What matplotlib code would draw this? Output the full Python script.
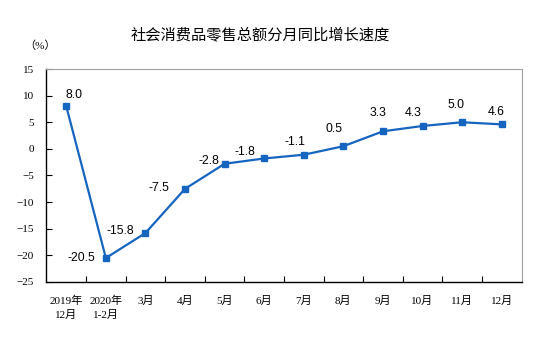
import numpy as np
import matplotlib.pyplot as plt

# monthly year-on-year growth of retail sales
months = ['2019年\n12月', '2020年\n1-2月', '3月', '4月', '5月', '6月',
          '7月', '8月', '9月', '10月', '11月', '12月']
growth = [8.0, -20.5, -15.8, -7.5, -2.8, -1.8, -1.1, 0.5, 3.3, 4.3, 5.0, 4.6]

# where each value label sits relative to its marker (pixels)
label_dx = [8, -24, -25, -26, -16, -19, -9, -9, -5, -9, -6, -6]
label_dy = [11, 0, 2, 1, 3, 6, 13, 17, 18, 13, 17, 12]

serif = ['Liberation Serif', 'Noto Sans CJK SC']
sans = ['Liberation Sans', 'Noto Sans CJK SC']
blue = '#1565c0'

fig = plt.figure(figsize=(5.47, 3.48), dpi=100)
ax = fig.add_axes([0.085, 0.1897, 0.8684, 0.612])

x = np.arange(len(growth))
ax.plot(x, growth, color=blue, lw=1.6, marker='s', ms=4.5, zorder=3)

for i, v in enumerate(growth):
    ax.annotate('%.1f' % v, (x[i], v), xytext=(label_dx[i], label_dy[i]),
                textcoords='offset pixels', ha='center', va='center',
                fontsize=8.8, family=sans, color='black')

ax.set_xlim(-0.5, len(growth) - 0.5)
ax.set_ylim(-25, 15)
ax.set_yticks(range(-25, 16, 5))
ax.set_xticks(x)
ax.set_xticklabels(months, family=serif, fontsize=8, linespacing=1.45)
ax.set_xticks(np.arange(0.5, len(growth) - 1, 1), minor=True)
ax.tick_params(axis='x', which='major', length=0, pad=10)
ax.tick_params(axis='x', which='minor', direction='in', length=4, width=0.8)
ax.tick_params(axis='y', direction='in', length=4, width=0.8, pad=9)
for lab in ax.get_yticklabels():
    lab.set_family(serif)
    lab.set_fontsize(8)

ax.spines['left'].set_color('black')
ax.spines['bottom'].set_color('black')
ax.spines['left'].set_linewidth(1.0)
ax.spines['bottom'].set_linewidth(1.0)
for s in ['top', 'right']:
    ax.spines[s].set_color('#a0a0a0')
    ax.spines[s].set_linewidth(0.8)

fig.text(0.475, 0.9, '社会消费品零售总额分月同比增长速度', ha='center', va='center',
         fontsize=11, family=sans)
fig.text(0.073, 0.868, '（%）', ha='center', va='center', fontsize=8, family=serif)

plt.savefig('out.png', dpi=100)
plt.close()
